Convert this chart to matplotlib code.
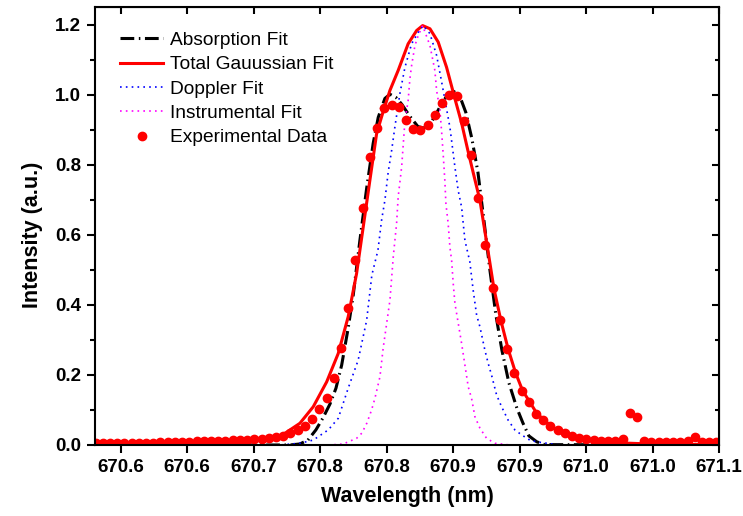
import matplotlib
matplotlib.use("Agg")
import matplotlib.pyplot as plt
from matplotlib.ticker import MultipleLocator

plt.rcParams['font.family'] = ['Liberation Sans', 'DejaVu Sans']

# experimental points (nm, a.u.)
wl_exp = [670.5811, 670.5865, 670.5919, 670.5974, 670.6028, 670.6082, 670.6137, 670.6191,
          670.6245, 670.6299, 670.6354, 670.6408, 670.6462, 670.6517, 670.6571, 670.6625,
          670.6680, 670.6734, 670.6788, 670.6842, 670.6897, 670.6951, 670.7005, 670.7060,
          670.7114, 670.7168, 670.7223, 670.7277, 670.7331, 670.7386, 670.7440, 670.7494,
          670.7548, 670.7603, 670.7657, 670.7711, 670.7766, 670.7820, 670.7874, 670.7929,
          670.7983, 670.8037, 670.8092, 670.8146, 670.8200, 670.8254, 670.8309, 670.8363,
          670.8417, 670.8472, 670.8526, 670.8580, 670.8635, 670.8689, 670.8743, 670.8798,
          670.8852, 670.8906, 670.8960, 670.9015, 670.9069, 670.9123, 670.9178, 670.9232,
          670.9286, 670.9341, 670.9395, 670.9449, 670.9503, 670.9558, 670.9612, 670.9666,
          670.9721, 670.9775, 670.9829, 670.9884, 670.9938, 670.9992, 671.0047, 671.0101,
          671.0155, 671.0209, 671.0264, 671.0318, 671.0372, 671.0427, 671.0481]
int_exp = [0.006, 0.006, 0.006, 0.006, 0.006, 0.007, 0.007, 0.007, 0.007, 0.008, 0.008,
           0.008, 0.009, 0.009, 0.010, 0.010, 0.011, 0.011, 0.012, 0.013, 0.014, 0.015,
           0.016, 0.018, 0.020, 0.023,
           0.026, 0.035, 0.043, 0.055, 0.073, 0.103, 0.135, 0.192, 0.277, 0.391, 0.529,
           0.676, 0.822, 0.905, 0.963, 0.971, 0.966, 0.928, 0.903, 0.898, 0.912, 0.943,
           0.977, 1.000, 0.996, 0.924, 0.827, 0.705, 0.570, 0.447, 0.356, 0.274, 0.206,
           0.155, 0.122, 0.088, 0.071, 0.055, 0.043, 0.033, 0.026, 0.021, 0.016, 0.014,
           0.012, 0.012, 0.012, 0.017, 0.092, 0.079, 0.012, 0.009, 0.009, 0.009, 0.009,
           0.009, 0.010, 0.024, 0.009, 0.008, 0.008]

# absorption fit
wl_abs = [670.5807, 670.7273, 670.7348, 670.7408, 670.7468, 670.7521, 670.7574, 670.7619,
          670.7662, 670.7711, 670.7749, 670.7799, 670.7850, 670.7899, 670.7937, 670.7987,
          670.8025, 670.8070, 670.8115, 670.8175, 670.8235, 670.8280, 670.8326, 670.8371,
          670.8416, 670.8461, 670.8506, 670.8551, 670.8596, 670.8641, 670.8687, 670.8732,
          670.8777, 670.8822, 670.8867, 670.8920, 670.8980, 670.9025, 670.9070, 670.9130,
          670.9190, 671.0499]
int_abs = [0.0, 0.0, 0.003, 0.014, 0.043, 0.077, 0.117, 0.162, 0.228, 0.334, 0.428, 0.584,
           0.733, 0.861, 0.935, 0.989, 1.001, 0.992, 0.972, 0.938, 0.909, 0.904, 0.915,
           0.944, 0.975, 1.001, 1.009, 0.995, 0.949, 0.875, 0.778, 0.641, 0.499, 0.371,
           0.271, 0.177, 0.105, 0.063, 0.026, 0.009, 0.001, 0.0]

# total gaussian fit
wl_tot = [670.5807, 670.6220, 670.6596, 670.6897, 670.7085, 670.7198, 670.7348, 670.7448,
          670.7549, 670.7636, 670.7711, 670.7774, 670.7824, 670.7874, 670.7925, 670.7972,
          670.8025, 670.8087, 670.8162, 670.8226, 670.8271, 670.8326, 670.8388, 670.8451,
          670.8514, 670.8564, 670.8611, 670.8656, 670.8702, 670.8756, 670.8807, 670.8859,
          670.8914, 670.8970, 670.9023, 670.9078, 670.9130, 670.9241, 670.9353, 670.9529,
          670.9754, 671.0055, 671.0499]
int_tot = [0.001, 0.004, 0.009, 0.014, 0.020, 0.024, 0.062, 0.109, 0.180, 0.261, 0.366,
           0.489, 0.622, 0.755, 0.889, 0.949, 1.012, 1.069, 1.145, 1.183, 1.197, 1.188,
           1.150, 1.078, 0.988, 0.919, 0.841, 0.770, 0.698, 0.570, 0.447, 0.356, 0.274,
           0.206, 0.155, 0.122, 0.090, 0.052, 0.029, 0.014, 0.006, 0.002, 0.001]

# doppler fit
wl_dop = [670.5807, 670.7198, 670.7348, 670.7448, 670.7561, 670.7636, 670.7711, 670.7786,
          670.7850, 670.7889, 670.7935, 670.7962, 670.7987, 670.8012, 670.8038, 670.8062,
          670.8100, 670.8138, 670.8188, 670.8238, 670.8275, 670.8326, 670.8376, 670.8414,
          670.8476, 670.8514, 670.8538, 670.8564, 670.8589, 670.8626, 670.8651, 670.8677,
          670.8702, 670.8739, 670.8764, 670.8789, 670.8827, 670.8865, 670.8914, 670.8965,
          670.9015, 670.9077, 670.9128, 670.9203, 670.9303, 671.0499]
int_dop = [0.0, 0.0, 0.005, 0.014, 0.043, 0.076, 0.162, 0.242, 0.356, 0.485, 0.556, 0.641,
           0.698, 0.779, 0.841, 0.907, 1.003, 1.078, 1.145, 1.178, 1.197, 1.174, 1.112,
           1.036, 0.907, 0.793, 0.727, 0.679, 0.584, 0.523, 0.442, 0.371, 0.337, 0.271,
           0.233, 0.200, 0.143, 0.109, 0.071, 0.043, 0.029, 0.014, 0.009, 0.005, 0.0, 0.0]

# instrumental fit
wl_ins = [670.5807, 670.7574, 670.7674, 670.7774, 670.7814, 670.7852, 670.7887, 670.7912,
          670.7950, 670.7974, 670.8025, 670.8050, 670.8075, 670.8087, 670.8113, 670.8138,
          670.8162, 670.8175, 670.8188, 670.8213, 670.8238, 670.8271, 670.8326, 670.8363,
          670.8376, 670.8401, 670.8414, 670.8426, 670.8438, 670.8446, 670.8463, 670.8476,
          670.8489, 670.8501, 670.8514, 670.8564, 670.8589, 670.8614, 670.8639, 670.8664,
          670.8702, 670.8752, 670.8814, 670.8927, 671.0499]
int_ins = [0.0, 0.0, 0.003, 0.019, 0.034, 0.063, 0.100, 0.133, 0.195, 0.276, 0.413, 0.537,
           0.632, 0.708, 0.793, 0.926, 0.983, 1.045, 1.083, 1.140, 1.169, 1.197, 1.140,
           1.069, 1.012, 0.955, 0.893, 0.827, 0.755, 0.689, 0.632, 0.565, 0.527, 0.461,
           0.404, 0.290, 0.228, 0.166, 0.133, 0.081, 0.048, 0.019, 0.005, 0.0, 0.0]

x_ticks = [670.60, 670.65, 670.70, 670.75, 670.80, 670.85, 670.90, 670.95, 671.00, 671.05]
x_tick_labels = ['670.6', '670.6', '670.7', '670.8', '670.8',
                 '670.9', '670.9', '671.0', '671.0', '671.1']

fig = plt.figure(figsize=(7.43, 5.16), dpi=100)
ax = fig.add_axes([0.1279, 0.1376, 0.8398, 0.8488])

ax.plot(wl_abs, int_abs, color='black', lw=2.2, ls=(0, (4.5, 1.5, 0.5, 1.5)),
        label='Absorption Fit')
ax.plot(wl_tot, int_tot, color='#ff0000', lw=2.2, label='Total Gauussian Fit')
ax.plot(wl_dop, int_dop, color='#0000ff', lw=1.2, ls=(0, (1, 2.5)), label='Doppler Fit')
ax.plot(wl_ins, int_ins, color='#ff00ff', lw=1.2, ls=(0, (1, 2.5)), label='Instrumental Fit')
ax.plot(wl_exp, int_exp, 'o', color='#ff0000', ms=6, ls='none', label='Experimental Data')

ax.set_xlim(670.5807, 671.05)
ax.set_ylim(0, 1.25)
ax.set_xticks(x_ticks)
ax.set_xticklabels(x_tick_labels)
ax.yaxis.set_major_locator(MultipleLocator(0.2))
ax.yaxis.set_minor_locator(MultipleLocator(0.1))
ax.yaxis.set_major_formatter(plt.FormatStrFormatter('%.1f'))

for s in ax.spines.values():
    s.set_linewidth(1.5)
ax.tick_params(axis='both', which='major', direction='out', length=6, width=1.5,
               labelsize=13.5, pad=4)
ax.tick_params(axis='y', which='minor', direction='out', length=3.5, width=1.5)
for lab in ax.get_xticklabels() + ax.get_yticklabels():
    lab.set_fontweight('bold')

# mirrored ticks on top/right pointing inward
top = ax.secondary_xaxis('top')
top.set_xticks(x_ticks)
top.tick_params(direction='in', length=5, width=1.5, labeltop=False)
right = ax.secondary_yaxis('right')
right.yaxis.set_major_locator(MultipleLocator(0.2))
right.yaxis.set_minor_locator(MultipleLocator(0.1))
right.tick_params(which='major', direction='in', length=5, width=1.5, labelright=False)
right.tick_params(which='minor', direction='in', length=3, width=1.5)

ax.set_xlabel('Wavelength (nm)', fontsize=15.5, fontweight='bold')
ax.set_ylabel('Intensity (a.u.)', fontsize=15.5, fontweight='bold')
ax.xaxis.set_label_coords(0.5, -0.093)
ax.yaxis.set_label_coords(-0.083, 0.48)

ax.legend(loc='upper left', bbox_to_anchor=(0.040, 0.944), frameon=False, fontsize=13.8,
          handlelength=2.25, handletextpad=0.37, labelspacing=0.36,
          borderaxespad=0, borderpad=0)

fig.savefig('out.png', dpi=100)
